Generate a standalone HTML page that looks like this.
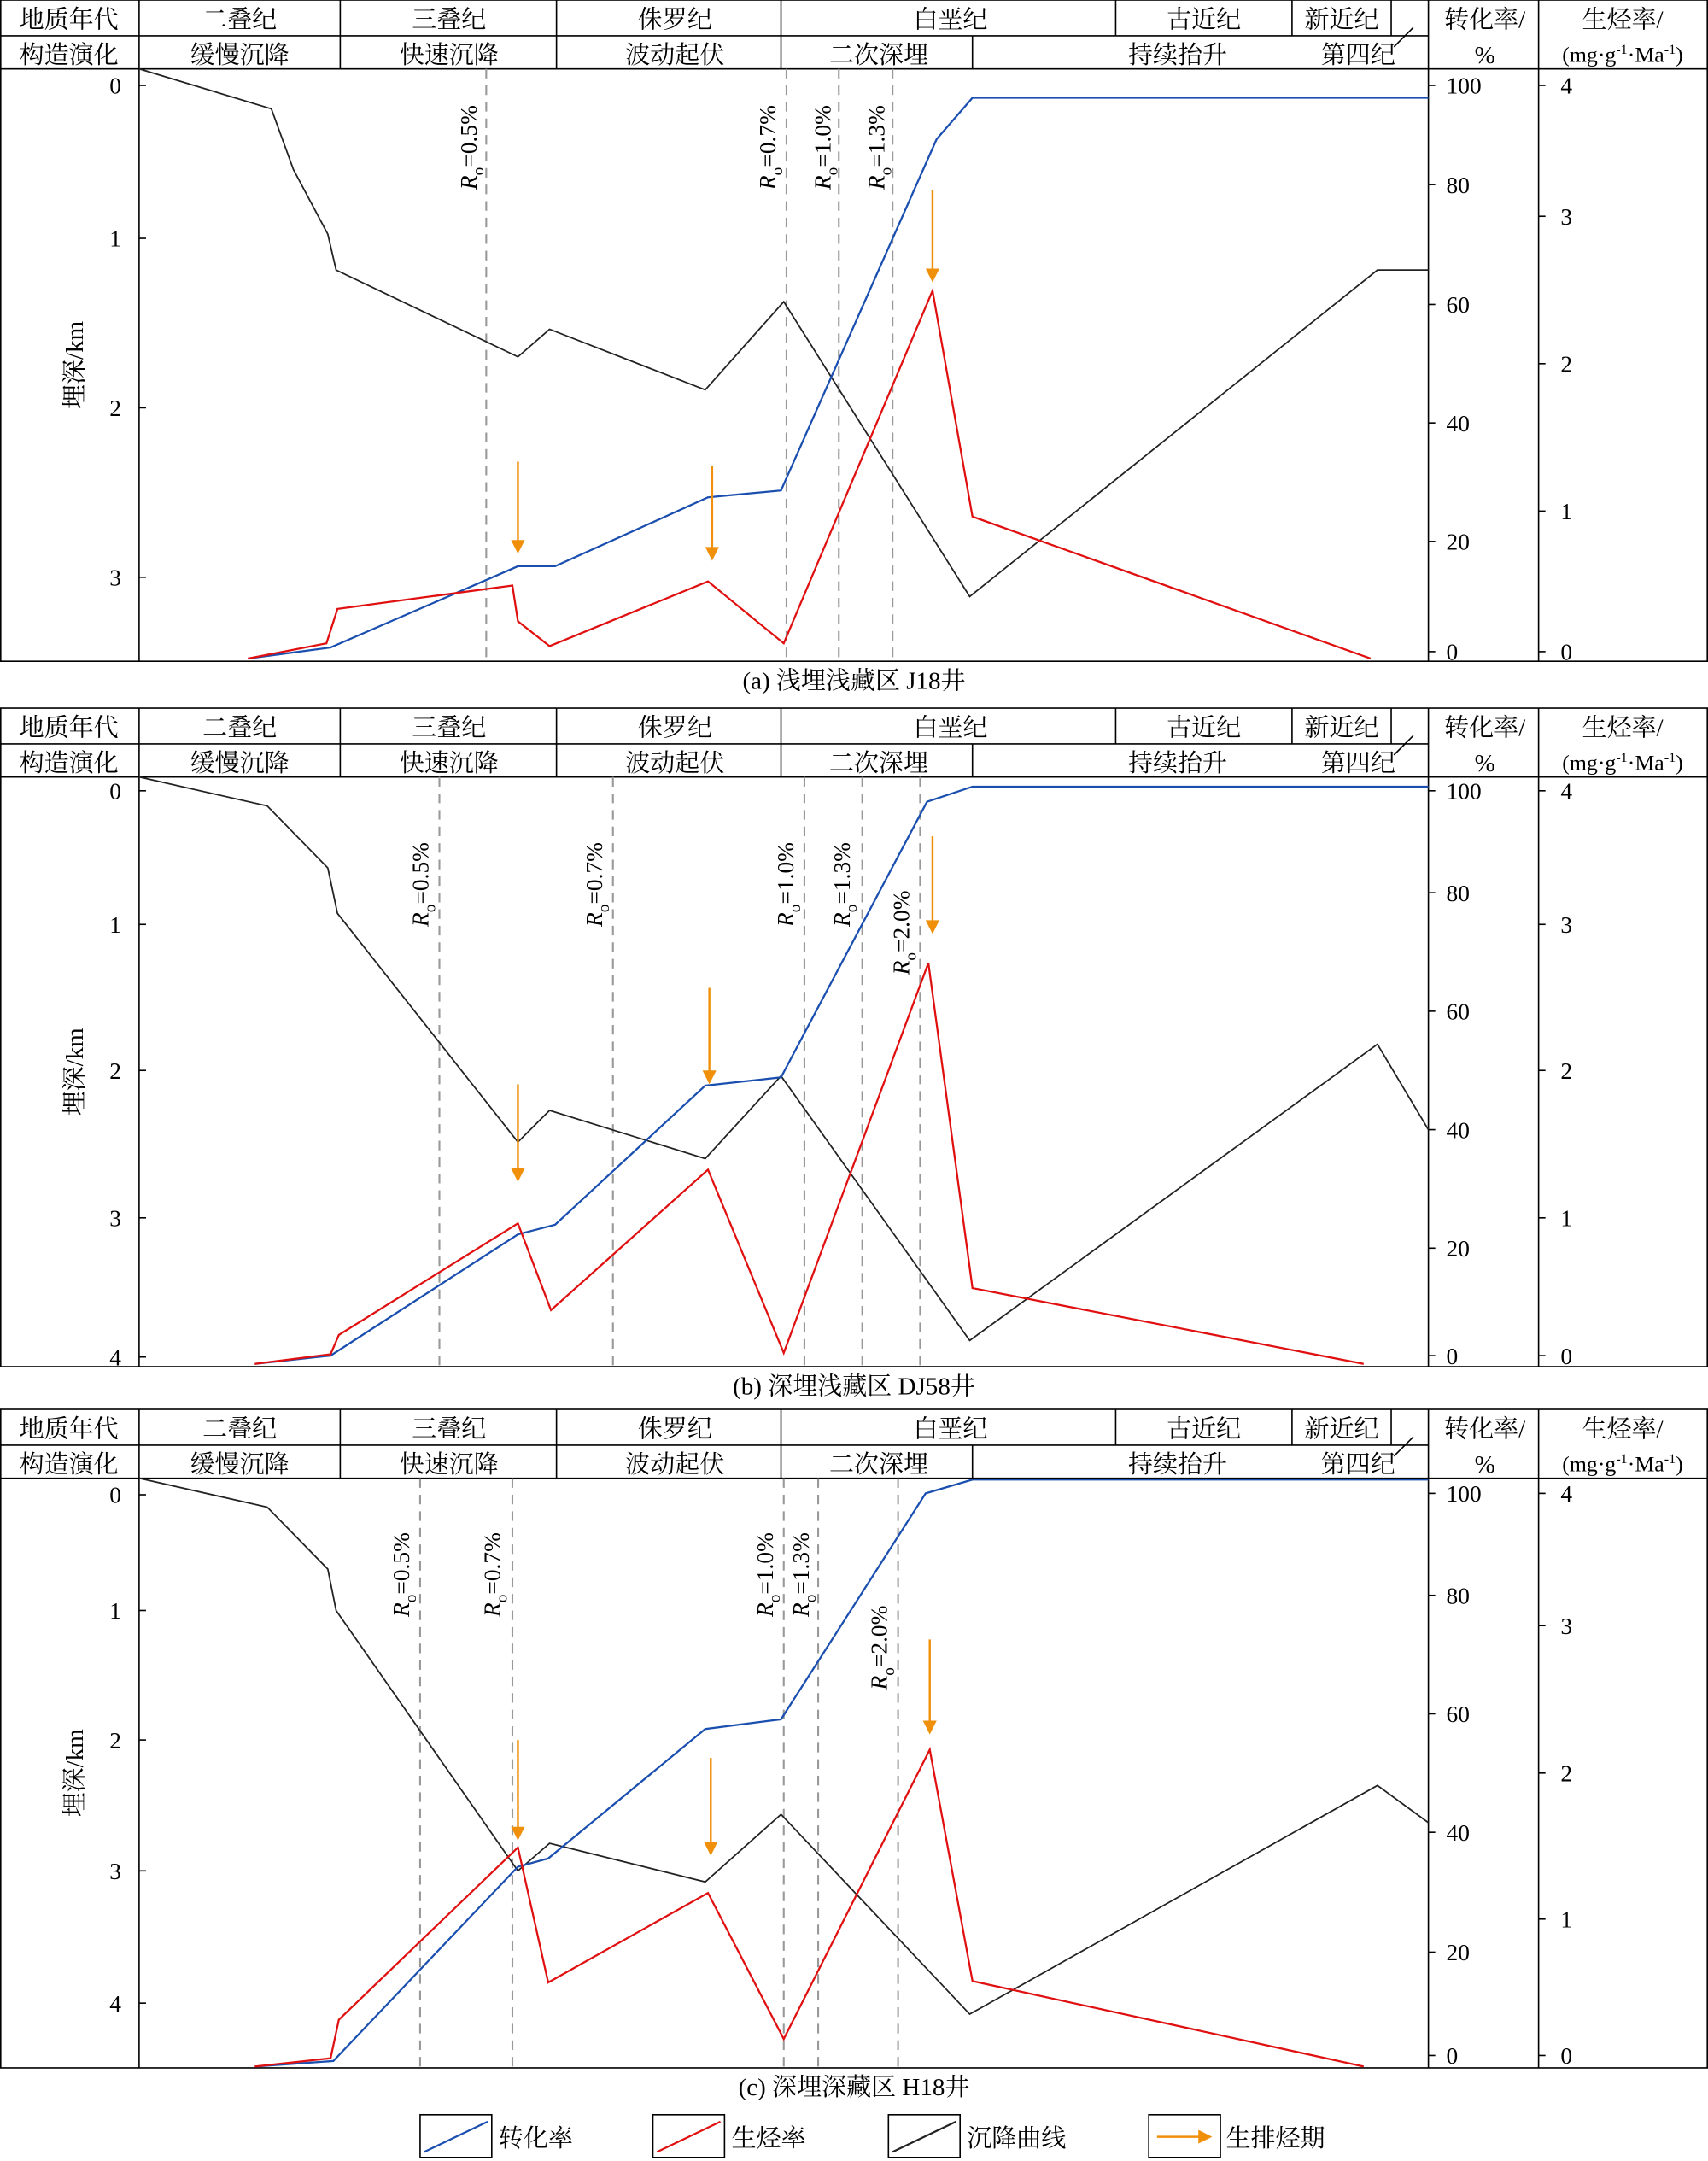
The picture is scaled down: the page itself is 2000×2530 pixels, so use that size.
<!DOCTYPE html>
<html><head><meta charset="utf-8">
<style>
html,body{margin:0;padding:0;background:#fff;}
svg{display:block;}
text{font-family:"Liberation Serif","Noto Serif CJK SC",serif;fill:#000;}
</style></head>
<body>
<svg id="s" width="2000" height="2530" viewBox="0 0 1240 1568.6" preserveAspectRatio="none" xmlns="http://www.w3.org/2000/svg"></svg>
<script>
const S=document.getElementById('s');
let h='';
function line(x1,y1,x2,y2,st,w,da){h+=`<line x1="${x1}" y1="${y1}" x2="${x2}" y2="${y2}" stroke="${st}" stroke-width="${w||1}" ${da?`stroke-dasharray="${da}"`:''}/>`;}
function pl(pts,c,w){h+=`<polyline fill="none" stroke="${c}" stroke-width="${w||1.3}" points="${pts.map(p=>p.join(',')).join(' ')}"/>`;}
function tx(x,y,t,sz,anc,extra){h+=`<text x="${x}" y="${y}" font-size="${sz||18}" text-anchor="${anc||'middle'}" ${extra||''}>${t}</text>`;}
function arrow(x,y1,y2){line(x,y1,x,y2-8,'#f0900a',1.5);h+=`<polygon points="${x-5},${y2-10} ${x+5},${y2-10} ${x},${y2}" fill="#f0900a"/>`;}
function ro(x,yc,val){h+=`<text transform="translate(${x},${yc}) rotate(-90)" font-size="17" text-anchor="middle"><tspan font-style="italic">R</tspan><tspan font-size="12" dy="5">o</tspan><tspan dy="-5">=${val}</tspan></text>`;}
function panel(top,bot,P){
  const r1=top+26,r2=top+50;
  h+=`<rect x="0.5" y="${top}" width="1239" height="${bot-top}" fill="none" stroke="#000" stroke-width="1"/>`;
  line(0,r2,1240,r2,'#000');
  line(0,r1,1037,r1,'#000');
  line(1037,top,1037,bot,'#000');line(1117,top,1117,bot,'#000');line(101,top,101,bot,'#000');
  [247,404,567].forEach(x=>line(x,top,x,r2,'#000'));
  line(810,top,810,r1,'#000');line(938,top,938,r1,'#000');line(1010,top,1010,r1,'#000');
  line(706,r1,706,r2,'#000');
  line(1012,r1+8,1026,r1-6,'#000');
  tx(50,top+20,'地质年代');tx(50,r1+20,'构造演化');
  tx(174,top+20,'二叠纪');tx(326,top+20,'三叠纪');tx(490,top+20,'侏罗纪');tx(690,top+20,'白垩纪');tx(874,top+20,'古近纪');tx(974,top+20,'新近纪');
  tx(174,r1+20,'缓慢沉降');tx(326,r1+20,'快速沉降');tx(490,r1+20,'波动起伏');tx(638,r1+20,'二次深埋');tx(855,r1+20,'持续抬升');tx(986,r1+20,'第四纪');
  tx(1078,top+20,'转化率/');tx(1078,r1+20,'%');
  tx(1178,top+20,'生烃率/');
  h+=`<text x="1178" y="${r1+19}" font-size="16" text-anchor="middle">(mg·g<tspan font-size="10" dy="-6">-1</tspan><tspan dy="6">·Ma</tspan><tspan font-size="10" dy="-6">-1</tspan><tspan dy="6">)</tspan></text>`;
  h+=`<text transform="translate(60,${(r2+bot)/2}) rotate(-90)" font-size="18" text-anchor="middle">埋深/km</text>`;
  P.dep.forEach(([v,y])=>{tx(88,y+6,v,17,'end');line(101,y,106,y,'#000');});
  P.conv.forEach(([v,y])=>{tx(1050,y+6,v,17,'start');line(1037,y,1042,y,'#000');});
  P.rate.forEach(([v,y])=>{tx(1133,y+6,v,17,'start');line(1117,y,1122,y,'#000');});
  P.dash.forEach(x=>line(x,r2,x,bot,'#999',1.3,'7,5'));
  P.ro.forEach(a=>ro(a[0],a[1],a[2]));
  pl(P.blk,'#222',1.1);pl(P.blue,'#1a4fb0',1.4);pl(P.red,'#e01010',1.4);
  P.arr.forEach(a=>arrow(a[0],a[1],a[2]));
  tx(620,bot+20,P.cap,18);
}
panel(0,480,{
 dep:[[0,62],[1,173],[2,296],[3,419]],
 conv:[[100,62],[80,134],[60,221],[40,307],[20,393],[0,473]],
 rate:[[4,62],[3,157],[2,264],[1,371],[0,473]],
 dash:[353,571,609,648],
 ro:[[346,107,'0.5%'],[563,107,'0.7%'],[603,107,'1.0%'],[642,107,'1.3%']],
 blk:[[101,50],[197,79],[213,123],[238,170],[244,196],[376,259],[399,239],[512,283],[569,219],[704,433],[1000,196],[1037,196]],
 blue:[[180,478],[240,470],[376,411],[403,411],[514,361],[567,356],[680,101],[706,71],[1037,71]],
 red:[[180,478],[237,467],[245,442],[372,425],[376,451],[399,469],[514,422],[569,467],[677,211],[706,375],[995,478]],
 arr:[[376,335,402],[517,338,407],[677,138,205]],
 cap:'(a) 浅埋浅藏区 J18井'});
panel(514,992,{
 dep:[[0,574],[1,671],[2,777],[3,884],[4,985]],
 conv:[[100,574],[80,648],[60,734],[40,820],[20,906],[0,984]],
 rate:[[4,574],[3,671],[2,777],[1,884],[0,984]],
 dash:[319,445,584,626,668],
 ro:[[311,642,'0.5%'],[437,642,'0.7%'],[576,642,'1.0%'],[617,642,'1.3%'],[660,677,'2.0%']],
 blk:[[101,564],[194,585],[238,630],[245,663],[376,829],[399,806],[512,841],[567,781],[704,973],[1000,758],[1037,820]],
 blue:[[185,990],[240,984],[376,896],[403,889],[512,788],[567,782],[673,582],[706,571],[1037,571]],
 red:[[185,990],[240,983],[246,969],[376,888],[400,951],[514,849],[569,982],[674,699],[706,935],[990,990]],
 arr:[[376,787,858],[515,717,787],[677,607,678]],
 cap:'(b) 深埋浅藏区 DJ58井'});
panel(1023,1501,{
 dep:[[0,1085],[1,1169],[2,1263],[3,1358],[4,1454]],
 conv:[[100,1084],[80,1158],[60,1244],[40,1330],[20,1417],[0,1492]],
 rate:[[4,1084],[3,1180],[2,1287],[1,1393],[0,1492]],
 dash:[305,372,569,594,652],
 ro:[[297,1143,'0.5%'],[363,1143,'0.7%'],[561,1143,'1.0%'],[587,1143,'1.3%'],[644,1196,'2.0%']],
 blk:[[101,1073],[194,1094],[238,1139],[244,1169],[376,1358],[399,1338],[512,1366],[567,1317],[704,1462],[1000,1296],[1037,1323]],
 blue:[[185,1500],[242,1496],[376,1355],[398,1349],[512,1255],[567,1248],[672,1084],[706,1074],[1037,1074]],
 red:[[185,1500],[240,1494],[246,1466],[376,1341],[398,1439],[514,1374],[569,1480],[675,1270],[706,1438],[990,1500]],
 arr:[[376,1263,1336],[516,1276,1347],[675,1190,1259]],
 cap:'(c) 深埋深藏区 H18井'});
// legend
[[305,'#1a4fb0','转化率'],[474,'#e01010','生烃率'],[645,'#222','沉降曲线']].forEach(([x,c,t])=>{
 h+=`<rect x="${x}" y="1535" width="52" height="31" fill="none" stroke="#000"/>`;
 line(x+3,1562,x+49,1540,c,1.4);tx(x+57,1558,t,18,'start');});
h+=`<rect x="834" y="1535" width="52" height="31" fill="none" stroke="#000"/>`;
line(840,1551,872,1551,'#f0900a',1.5);h+=`<polygon points="870,1546 870,1556 880,1551" fill="#f0900a"/>`;
tx(890,1558,'生排烃期',18,'start');
S.innerHTML=h;
</script>
</body></html>
